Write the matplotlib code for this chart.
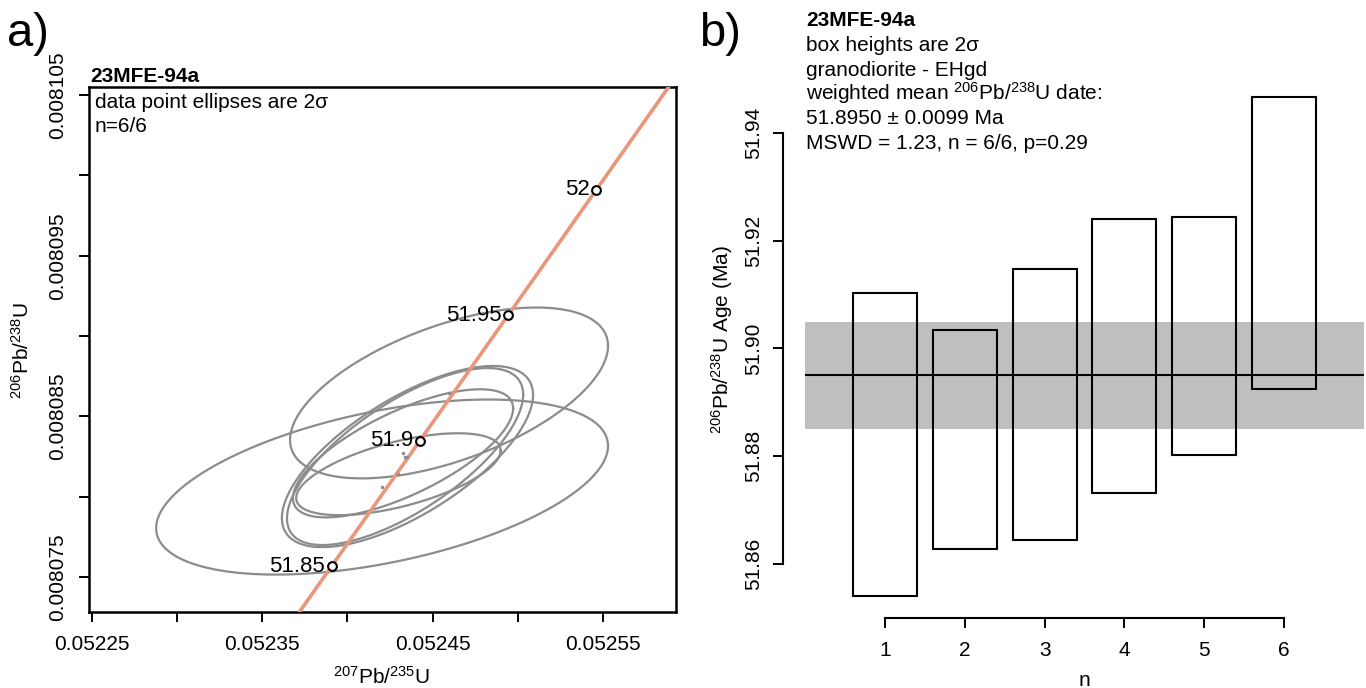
import numpy as np
import matplotlib
matplotlib.use("Agg")
import matplotlib.pyplot as plt
from matplotlib.patches import Rectangle

plt.rcParams['font.family'] = ['Liberation Sans', 'DejaVu Sans']
plt.rcParams['mathtext.fontset'] = 'custom'
plt.rcParams['mathtext.rm'] = 'Liberation Sans'
plt.rcParams['mathtext.it'] = 'Liberation Sans'

# ---------------- data: panel a (concordia) ----------------
x75 = [0.0524597, 0.0524204, 0.0524353, 0.0524339, 0.0524327, 0.0524300]   # 207Pb/235U
s75 = [9.33e-5, 1.326e-4, 7.37e-5, 6.93e-5, 6.46e-5, 6.00e-5]              # 2 sigma
y68 = [0.00808646, 0.00808060, 0.00808250, 0.00808250, 0.00808270, 0.00808140]  # 206Pb/238U
s68 = [5.32e-6, 5.45e-6, 5.64e-6, 5.51e-6, 3.99e-6, 2.55e-6]               # 2 sigma
rho = [0.55, 0.47, 0.68, 0.70, 0.70, 0.58]
conc_ages = [51.85, 51.90, 51.95, 52.00]
conc_labels = ['51.85', '51.9', '51.95', '52']
lam238 = 1.55125e-10
lam235 = 9.8485e-10

xticks_a = [0.05225, 0.05230, 0.05235, 0.05240, 0.05245, 0.05250, 0.05255]
xticklabels_a = ['0.05225', '', '0.05235', '', '0.05245', '', '0.05255']
yticks_a = [0.008075, 0.008080, 0.008085, 0.008090, 0.008095, 0.008100, 0.008105]
yticklabels_a = ['0.008075', '', '0.008085', '', '0.008095', '', '0.008105']

# ---------------- data: panel b (weighted mean) ----------------
n_idx = [1, 2, 3, 4, 5, 6]
ages = [51.8822, 51.8831, 51.8896, 51.8986, 51.9023, 51.91955]
ages_2s = [0.0281, 0.0203, 0.0251, 0.0254, 0.0221, 0.02705]
wmean = 51.8950
wmean_err = 0.0099
yticks_b = [51.86, 51.88, 51.90, 51.92, 51.94]

W, H = 1366, 688
fig = plt.figure(figsize=(W / 100, H / 100), dpi=100)

def fx(px):
    return px / W

def fy(py):
    return 1 - py / H

# ---------------- panel a ----------------
L, R, T, B = 89, 676, 87, 612
axA = fig.add_axes([fx(L), fy(B), (R - L) / W, (B - T) / H])
axA.set_xlim(0.0522484, 0.0525929)
axA.set_ylim(0.00807282, 0.00810551)

th = np.linspace(0, 2 * np.pi, 400)
for cx, sx, cy, sy, r in zip(x75, s75, y68, s68, rho):
    ex = cx + sx * np.cos(th)
    ey = cy + sy * (r * np.cos(th) + np.sqrt(1 - r * r) * np.sin(th))
    axA.plot(ex, ey, color='#8c8c8c', lw=1.6, zorder=2)

t = np.linspace(51.6, 52.3, 300) * 1e6
cx_line = np.exp(lam235 * t) - 1
cy_line = np.exp(lam238 * t) - 1
axA.plot(cx_line, cy_line, color='#E9967A', lw=2.6, zorder=3, solid_capstyle='butt')

ta = np.array(conc_ages) * 1e6
axA.plot(np.exp(lam235 * ta) - 1, np.exp(lam238 * ta) - 1, 'o', ms=6.3,
         mfc='white', mec='black', mew=1.5, zorder=5)
for a, lab in zip(ta, conc_labels):
    axA.annotate(lab, (np.exp(lam235 * a) - 1, np.exp(lam238 * a) - 1),
                 xytext=(-4.5, 0), textcoords='offset points', ha='right', va='center',
                 fontsize=16, zorder=6)
axA.plot(x75, y68, '.', color='#8c8c8c', ms=3, zorder=4)

for sp in axA.spines.values():
    sp.set_linewidth(1.8)
axA.set_xticks(xticks_a)
axA.set_xticklabels(xticklabels_a)
axA.set_yticks(yticks_a)
axA.set_yticklabels(yticklabels_a)
axA.tick_params(axis='both', length=7.5, width=1.4, labelsize=15, direction='out')
axA.tick_params(axis='x', pad=9)
axA.tick_params(axis='y', pad=8)
for lbl in axA.get_yticklabels():
    lbl.set_rotation(90)
    lbl.set_va('center')

fig.text(fx(90), fy(82), '23MFE-94a', fontsize=15, fontweight='bold', ha='left', va='baseline')
fig.text(fx(95), fy(108), 'data point ellipses are 2σ', fontsize=15, ha='left', va='baseline')
fig.text(fx(95), fy(132), 'n=6/6', fontsize=15, ha='left', va='baseline')
fig.text(fx(382), fy(677), r'$^{207}$Pb/$^{235}$U', fontsize=15, ha='center', va='center')
fig.text(fx(22), fy(350), r'$^{206}$Pb/$^{238}$U', fontsize=15, ha='center', va='center', rotation=90)
fig.text(fx(7), fy(46), 'a)', fontsize=34, ha='left', va='baseline')

# ---------------- panel b ----------------
L2, R2, T2, B2 = 805, 1364, 85, 600
axB = fig.add_axes([fx(L2), fy(B2), (R2 - L2) / W, (B2 - T2) / H])
axB.set_xlim(0, 7)
axB.set_ylim(51.85332, 51.94887)
axB.axhspan(wmean - wmean_err, wmean + wmean_err, color='#BFBFBF', lw=0, zorder=1)
for xi, a, e in zip(n_idx, ages, ages_2s):
    axB.add_patch(Rectangle((xi - 0.4, a - e), 0.8, 2 * e, fill=False,
                            ec='black', lw=1.5, zorder=3))
axB.axhline(wmean, color='black', lw=1.5, zorder=4)

axB.spines['top'].set_visible(False)
axB.spines['right'].set_visible(False)
axB.spines['left'].set_position(('outward', 22 * 0.72))
axB.spines['bottom'].set_position(('outward', 18 * 0.72))
axB.spines['left'].set_bounds(yticks_b[0], yticks_b[-1])
axB.spines['bottom'].set_bounds(n_idx[0], n_idx[-1])
axB.spines['left'].set_linewidth(1.5)
axB.spines['bottom'].set_linewidth(1.5)
axB.set_xticks(n_idx)
axB.set_yticks(yticks_b)
axB.set_yticklabels(['%.2f' % v for v in yticks_b])
axB.tick_params(axis='both', length=7.5, width=1.4, labelsize=15, direction='out')
axB.tick_params(axis='x', pad=9)
axB.tick_params(axis='y', pad=7)
for lbl in axB.get_yticklabels():
    lbl.set_rotation(90)
    lbl.set_va('center')

lines_b = ['23MFE-94a', 'box heights are 2σ', 'granodiorite - EHgd',
           r'weighted mean $^{206}$Pb/$^{238}$U date:',
           '51.8950 ± 0.0099 Ma', 'MSWD = 1.23, n = 6/6, p=0.29']
base = [26, 51, 75.5, 100, 124.5, 149]
for i, (s, b) in enumerate(zip(lines_b, base)):
    fig.text(fx(806), fy(b), s, fontsize=15, ha='left', va='baseline',
             fontweight='bold' if i == 0 else 'normal')
fig.text(fx(722), fy(340), r'$^{206}$Pb/$^{238}$U Age (Ma)', fontsize=15,
         ha='center', va='center', rotation=90)
fig.text(fx(1084), fy(680), 'n', fontsize=15, ha='center', va='center')
fig.text(fx(699), fy(46), 'b)', fontsize=34, ha='left', va='baseline')

fig.savefig('out.png', dpi=100)
